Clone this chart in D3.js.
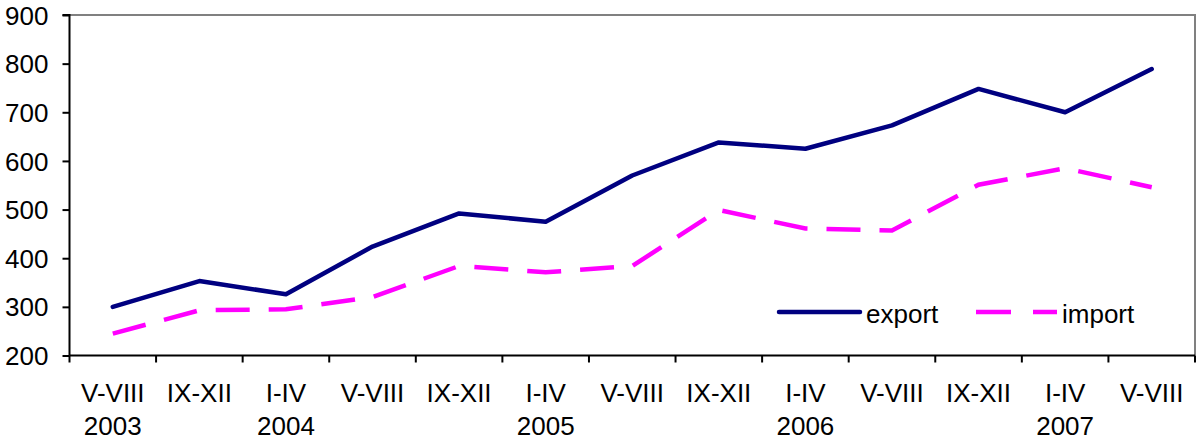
<!DOCTYPE html>
<html><head><meta charset="utf-8">
<script src="https://cdn.jsdelivr.net/npm/d3@7"></script>
<style>body{margin:0;background:#fff}text{font-family:"Liberation Sans",Arial,sans-serif}</style>
</head><body>
<svg id="c" width="1196" height="439"></svg>
<script>
const periods = ["V-VIII","IX-XII","I-IV","V-VIII","IX-XII","I-IV","V-VIII","IX-XII","I-IV","V-VIII","IX-XII","I-IV","V-VIII"];
const years = ["2003","","2004","","","2005","","","2006","","","2007",""];
const exportVals = [300,353,326,424,492,475,570,638,625,673,748,700,789];
const importVals = [245,293,295,320,384,371,384,499,461,457,551,585,546];
const yTicks = [200,300,400,500,600,700,800,900];

const svg = d3.select("#c");
const L = 69.5, R = 1195, T = 15, B = 355.5;
const x = d3.scaleBand().domain(d3.range(periods.length)).range([L, R]);
const y = d3.scaleLinear().domain([200, 900]).range([B, T]);

// frame top/right
svg.append("path").attr("d", `M${L},${T}H${R}V${B}`).attr("fill","none").attr("stroke","#808080").attr("stroke-width",2);

const fs = 26;
const yAx = svg.append("g").attr("transform", `translate(${L},0)`)
  .call(d3.axisLeft(y).tickValues(yTicks).tickSize(7).tickPadding(14).tickFormat(d3.format("d")));
yAx.selectAll("text").attr("font-size", fs).attr("fill","#000").attr("dy","0.35em");
yAx.selectAll("line,path").attr("stroke","#000").attr("stroke-width",2);
yAx.select(".domain").attr("d", `M-7,${T}H0V${B}`);

const xAx = svg.append("g").attr("transform", `translate(0,${B})`)
  .call(d3.axisBottom(x).tickSize(0).tickFormat(""));
xAx.select(".domain").attr("stroke","#000").attr("stroke-width",2).attr("d", `M${L},0H${R}`);
// tick marks at band boundaries
const bounds = d3.range(periods.length + 1).map(i => L + i * x.step());
svg.append("g").selectAll("line").data(bounds).join("line")
  .attr("x1", d => d).attr("x2", d => d).attr("y1", B).attr("y2", B + 7)
  .attr("stroke","#000").attr("stroke-width",2);

const lab = svg.append("g");
lab.selectAll("text.p").data(periods).join("text").attr("class","p")
  .attr("x", (d,i) => x(i) + x.bandwidth()/2).attr("y", 402)
  .attr("text-anchor","middle").attr("font-size", fs).text(d => d);
lab.selectAll("text.yr").data(years).join("text").attr("class","yr")
  .attr("x", (d,i) => x(i) + x.bandwidth()/2).attr("y", 435)
  .attr("text-anchor","middle").attr("font-size", fs).text(d => d);

const line = d3.line().x((d,i) => x(i) + x.bandwidth()/2).y(d => y(d));
svg.append("path").datum(importVals).attr("d", line).attr("fill","none")
  .attr("stroke","#FF00FF").attr("stroke-width",4.5).attr("stroke-dasharray","34,19");
svg.append("path").datum(exportVals).attr("d", line).attr("fill","none")
  .attr("stroke","#000080").attr("stroke-width",4.5).attr("stroke-linejoin","round").attr("stroke-linecap","round");

// legend
const lg = svg.append("g");
lg.append("line").attr("x1",779).attr("x2",860).attr("y1",312).attr("y2",312)
  .attr("stroke","#000080").attr("stroke-width",4.5).attr("stroke-linecap","round");
lg.append("text").attr("x",866).attr("y",323).attr("font-size",fs).text("export");
lg.append("line").attr("x1",976).attr("x2",1057).attr("y1",312).attr("y2",312)
  .attr("stroke","#FF00FF").attr("stroke-width",4.5).attr("stroke-dasharray","35,22");
lg.append("text").attr("x",1062).attr("y",323).attr("font-size",fs).text("import");
</script>
</body></html>
